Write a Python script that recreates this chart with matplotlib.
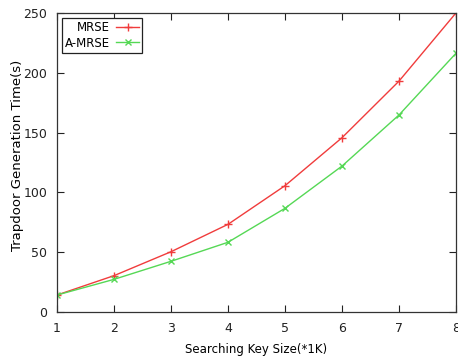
import matplotlib as mpl
mpl.use('Agg')

import matplotlib.pyplot as plt

# key size (*1K) and trapdoor generation time (s)
key_size = [1, 2, 3, 4, 5, 6, 7, 8]
mrse = [14.2, 30.4, 50.4, 73.3, 105.6, 145.7, 193.0, 250.0]
a_mrse = [14.2, 27.3, 42.4, 58.3, 86.7, 122.0, 164.7, 216.3]

x_ticks = [1, 2, 3, 4, 5, 6, 7, 8]
y_ticks = [0, 50, 100, 150, 200, 250]

fig = plt.figure(figsize=(4.58, 3.6), dpi=100)
ax = fig.add_axes([0.1245, 0.1333, 0.871, 0.8306])

ax.plot(key_size, mrse, color='#f03c3c', lw=1.0, marker='+', ms=6, mew=1.0,
        label='MRSE')
ax.plot(key_size, a_mrse, color='#55d855', lw=1.0, marker='x', ms=5, mew=1.0,
        label='A-MRSE')

ax.set_xlim(1, 8)
ax.set_ylim(0, 250)
ax.set_xticks(x_ticks)
ax.set_yticks(y_ticks)

# gnuplot look: inward ticks mirrored on all sides
ax.tick_params(direction='in', length=5, width=0.8, top=True, right=True,
               labelsize=9, pad=7, colors='#222222')
for sp in ax.spines.values():
    sp.set_linewidth(0.9)
    sp.set_color('#333333')

ax.set_xlabel('Searching Key Size(*1K)', fontsize=8.5)
ax.set_ylabel('Trapdoor Generation Time(s)', fontsize=9.5)
ax.xaxis.set_label_coords(0.5, -0.105)
ax.yaxis.set_label_coords(-0.083, 0.525)

leg = ax.legend(loc='upper left', markerfirst=False, fancybox=False,
                framealpha=1, edgecolor='#222222', borderaxespad=0.4,
                handlelength=2.0, handletextpad=0.5, borderpad=0.25,
                labelspacing=0.25, prop={'size': 8.5})
leg.get_frame().set_linewidth(0.9)

fig.savefig('out.png', dpi=100)
